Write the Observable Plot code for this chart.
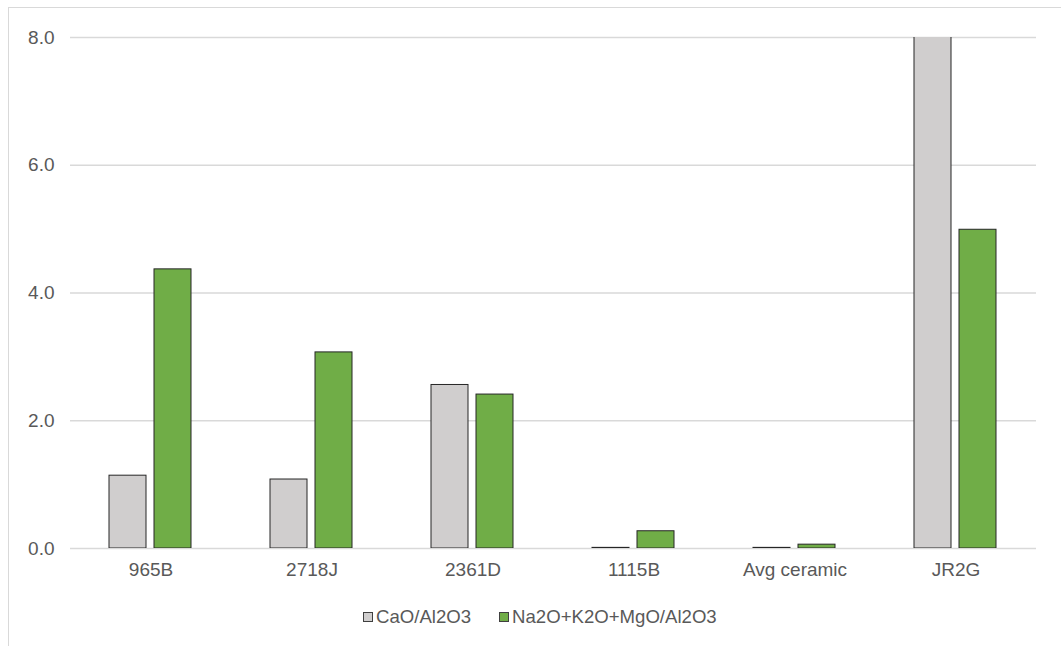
<!DOCTYPE html>
<html>
<head>
<meta charset="utf-8">
<script src="https://cdn.jsdelivr.net/npm/d3@7"></script>
<script src="https://cdn.jsdelivr.net/npm/@observablehq/plot@0.6"></script>
<style>
  html, body { margin: 0; padding: 0; background: #fff; overflow: hidden; }
  #wrap { position: relative; width: 1061px; height: 646px; font-family: "Liberation Sans", Arial, sans-serif; }
  #frame { position: absolute; left: 8px; top: 7px; width: 1100px; height: 700px; border: 1px solid #d9d9d9; box-sizing: border-box; }
  #chart { position: absolute; left: 0; top: 0; }
  #legend { position: absolute; left: 363px; top: 606px; display: flex; align-items: center; font-size: 18.6px; line-height: 22px; color: #595959; white-space: nowrap; }
  .sw { display: inline-block; width: 8px; height: 8px; border: 1px solid #404040; margin-right: 3px; }
  .item { display: flex; align-items: center; margin-right: 28px; }
</style>
</head>
<body>
<div id="wrap">
  <div id="frame"></div>
  <div id="chart"></div>
  <div id="legend"></div>
</div>
<script>
// Oxide ratios per sample
const samples = ["965B", "2718J", "2361D", "1115B", "Avg ceramic", "JR2G"];
const seriesNames = ["CaO/Al2O3", "Na2O+K2O+MgO/Al2O3"];
const caoRatio = [1.14, 1.08, 2.56, 0.01, 0.01, 9.6];
const alkaliRatio = [4.37, 3.07, 2.41, 0.27, 0.06, 4.99];
const yTicks = [0, 2, 4, 6, 8];
const colors = ["#d0cece", "#70ad47"];

const rows = [];
samples.forEach((s, i) => {
  rows.push({sample: s, series: seriesNames[0], value: caoRatio[i]});
  rows.push({sample: s, series: seriesNames[1], value: alkaliRatio[i]});
});

const chart = Plot.plot({
  width: 1061,
  height: 593,
  marginTop: 37,
  marginBottom: 45,
  marginLeft: 68,
  marginRight: 23,
  style: {fontFamily: "'Liberation Sans', Arial, sans-serif", fontSize: "19px", color: "#595959", background: "transparent"},
  fx: {domain: samples, padding: 0, axis: "bottom", tickSize: 0, tickPadding: 14, label: null},
  x: {domain: seriesNames, paddingInner: 0.174, paddingOuter: 0.845, axis: null},
  y: {domain: [0, 8], ticks: yTicks, tickFormat: d3.format(".1f"), tickSize: 0, tickPadding: 16, label: null},
  color: {domain: seriesNames, range: colors},
  marks: [
    Plot.gridY(yTicks, {stroke: "#d9d9d9", strokeOpacity: 1, strokeWidth: 1.5}),
    Plot.barY(rows, {fx: "sample", x: "series", y: "value", fill: "series", stroke: "#262626", strokeWidth: 1, clip: true})
  ]
});
document.getElementById("chart").appendChild(chart);

const legend = document.getElementById("legend");
seriesNames.forEach((name, i) => {
  const item = document.createElement("span");
  item.className = "item";
  const sw = document.createElement("span");
  sw.className = "sw";
  sw.style.background = colors[i];
  item.appendChild(sw);
  item.appendChild(document.createTextNode(name));
  legend.appendChild(item);
});
</script>
</body>
</html>
